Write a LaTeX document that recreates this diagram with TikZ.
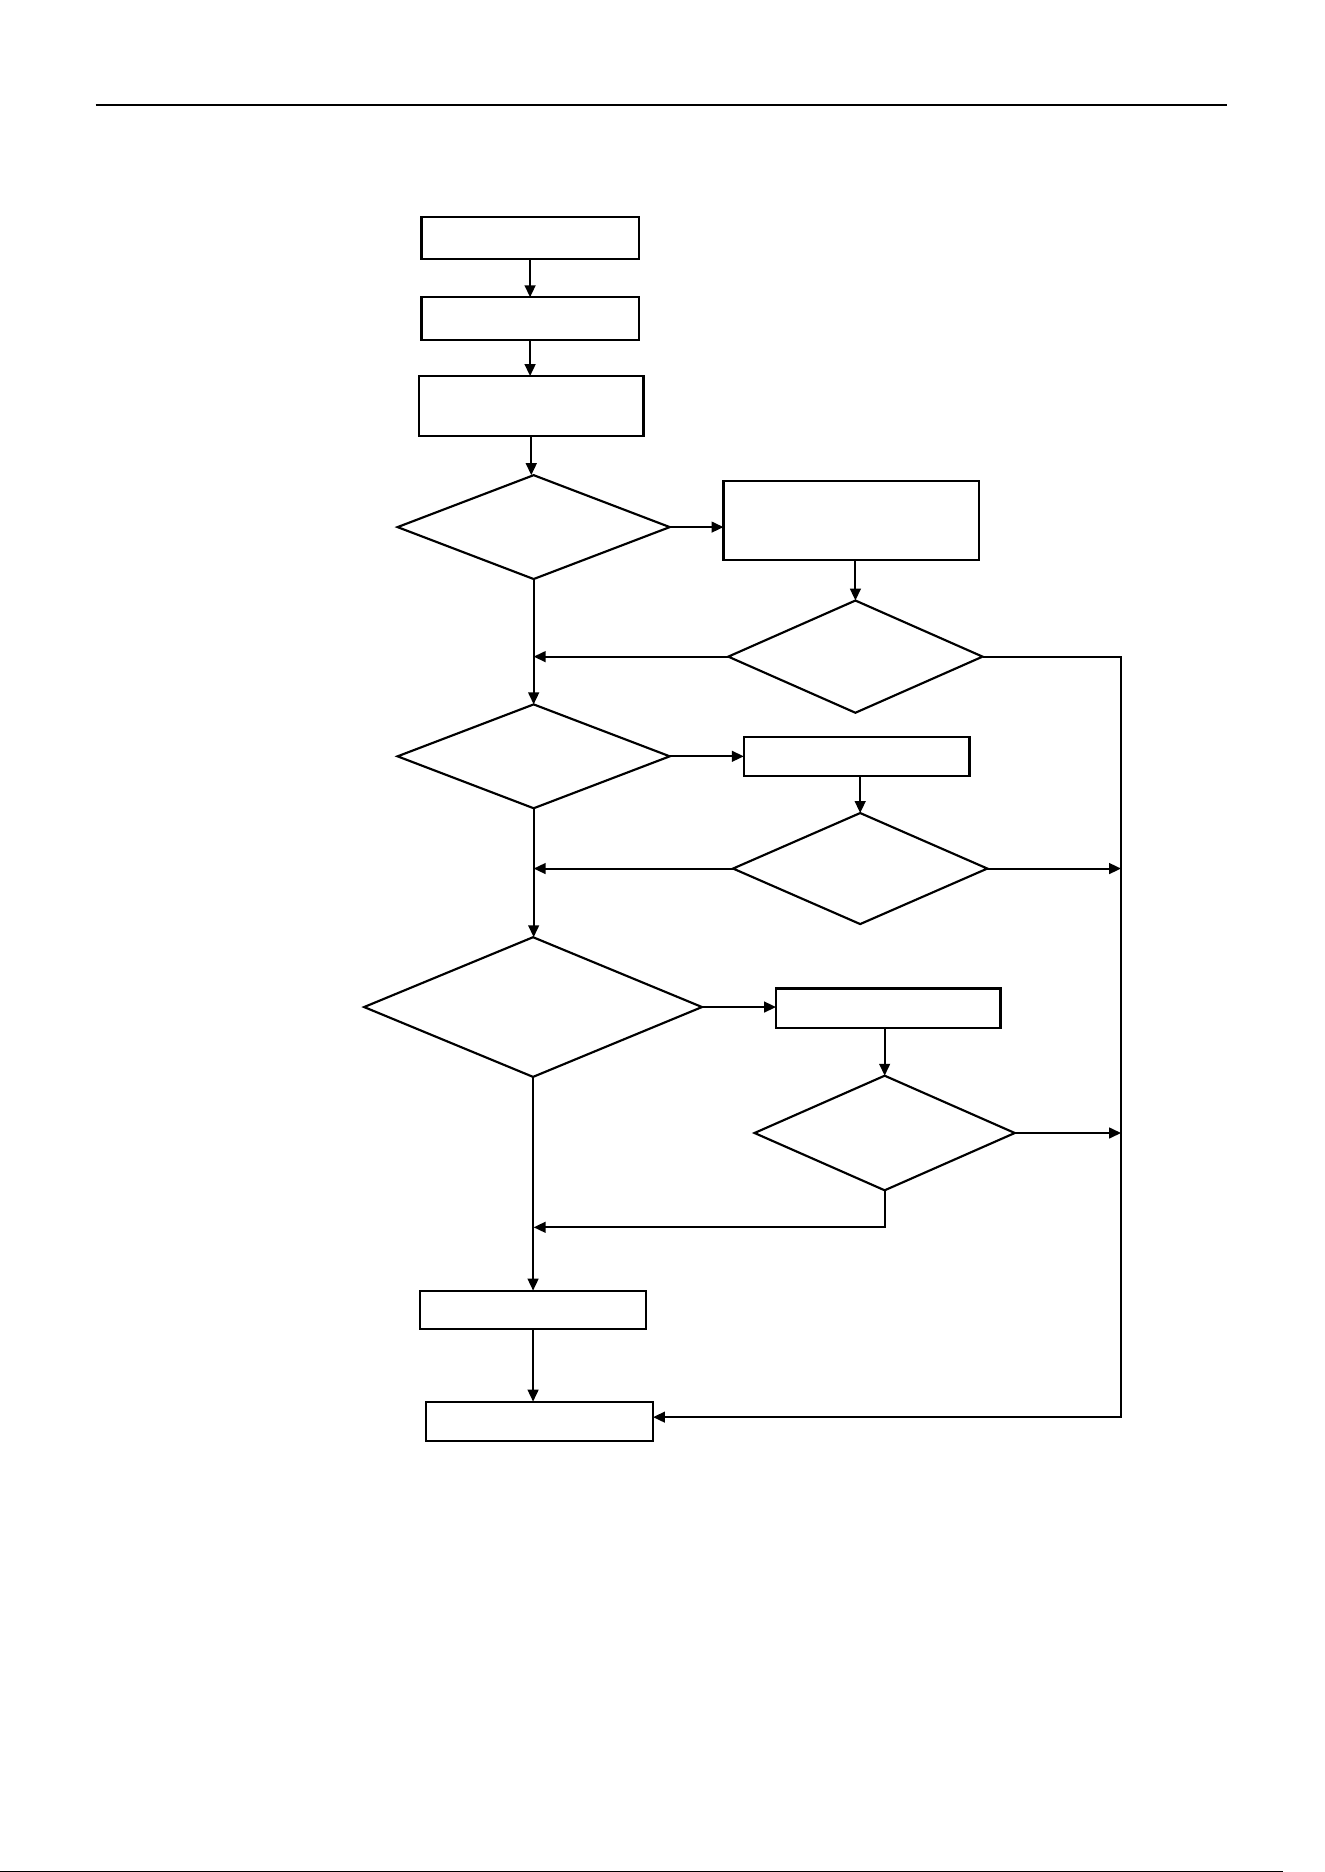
\documentclass[tikz,border=0pt]{standalone}
\usetikzlibrary{positioning, arrows.meta, shapes.geometric, calc}
\definecolor{ink}{HTML}{000000}
\tikzset{
  fcbase/.style  = {draw=ink, line width=1.8pt, fill=white, inner sep=0pt, outer sep=0pt},
  fcbox/.style   = {fcbase, rectangle},
  fctest/.style  = {fcbase, diamond},
  fcgo/.style    = {-{Triangle[length=10pt,width=9pt]}, draw=ink, line width=1.7pt},
  fcrule/.style  = {draw=ink, line width=2.2pt},
}

\begin{document}
\begin{tikzpicture}[x=1pt, y=-1pt]
\useasboundingbox (0,0) rectangle (1109,1568);

% page rules
\coordinate (hl) at (80,88);
\coordinate (hr) at (1028,88);
\draw[fcrule] (hl) -- (hr);
\coordinate (fl) at (0,1567.5);
\coordinate (fr) at (1075,1567.5);
\draw[draw=ink, line width=1pt] (fl) -- (fr);

% main column
\node[fcbox, minimum width=182pt, minimum height=35pt] (ini)  at (444,199.5) {};
\node[fcbox, minimum width=182pt, minimum height=36pt] (rd)   at (444,267) {};
\node[fcbox, minimum width=188pt, minimum height=50pt] (prep) at (445,340) {};
\node[fctest, minimum width=228pt, minimum height=87pt] (tA)  at (447,441.5) {};
\node[fctest, minimum width=228pt, minimum height=87pt] (tB)  at (447,633.5) {};
\node[fctest, minimum width=283pt, minimum height=117pt] (tC) at (446.5,843.5) {};
\node[fcbox, minimum width=189pt, minimum height=32pt] (fin)  at (446.5,1097) {};
\node[fcbox, minimum width=190pt, minimum height=33pt] (stop) at (452,1190.5) {};

% side branches
\node[fcbox, minimum width=214pt, minimum height=66pt] (fixA)  at (713,436) {};
\node[fctest, minimum width=213pt, minimum height=94pt] (chkA) at (716.5,550) {};
\node[fcbox, minimum width=189pt, minimum height=33pt] (fixB)  at (717.5,633.5) {};
\node[fctest, minimum width=213pt, minimum height=93pt] (chkB) at (720.5,727.5) {};
\node[fcbox, minimum width=188pt, minimum height=33pt] (fixC)  at (744,844.5) {};
\node[fctest, minimum width=218pt, minimum height=96pt] (chkC) at (741,949) {};

% joins on the trunk and on the right rail
\coordinate (jA) at (447,550);
\coordinate (jB) at (447,727.5);
\coordinate (jC) at (447,1028);
\coordinate (rA) at (939,550);
\coordinate (rB) at (939,727.5);
\coordinate (rC) at (939,949);

\foreach \a/\b in {ini/rd, rd/prep, prep/tA, tA/tB, tB/tC, tC/fin}{\draw[fcgo] (\a.south) -- (\a.south |- \b.north);}
\draw[fcgo] (fin.south) -- (fin.south |- stop.north);

\foreach \a/\b in {tA/fixA, tB/fixB, tC/fixC}{\draw[fcgo] (\a.east) -- (\a.east -| \b.west);}
\foreach \a/\b in {fixA/chkA, fixB/chkB, fixC/chkC}{\draw[fcgo] (\a.south) -- (\a.south -| \b.north) -- (\b.north);}

\draw[fcgo] (chkA.west) -- (jA);
\draw[fcgo] (chkB.west) -- (jB);
\draw[fcgo] (chkC.south) |- (jC);

\draw[fcgo] (chkB.east) -- (rB);
\draw[fcgo] (chkC.east) -- (rC);
\draw[fcgo] (chkA.east) -- (rA) |- ([yshift=3.5pt]stop.east);
\end{tikzpicture}
\end{document}
